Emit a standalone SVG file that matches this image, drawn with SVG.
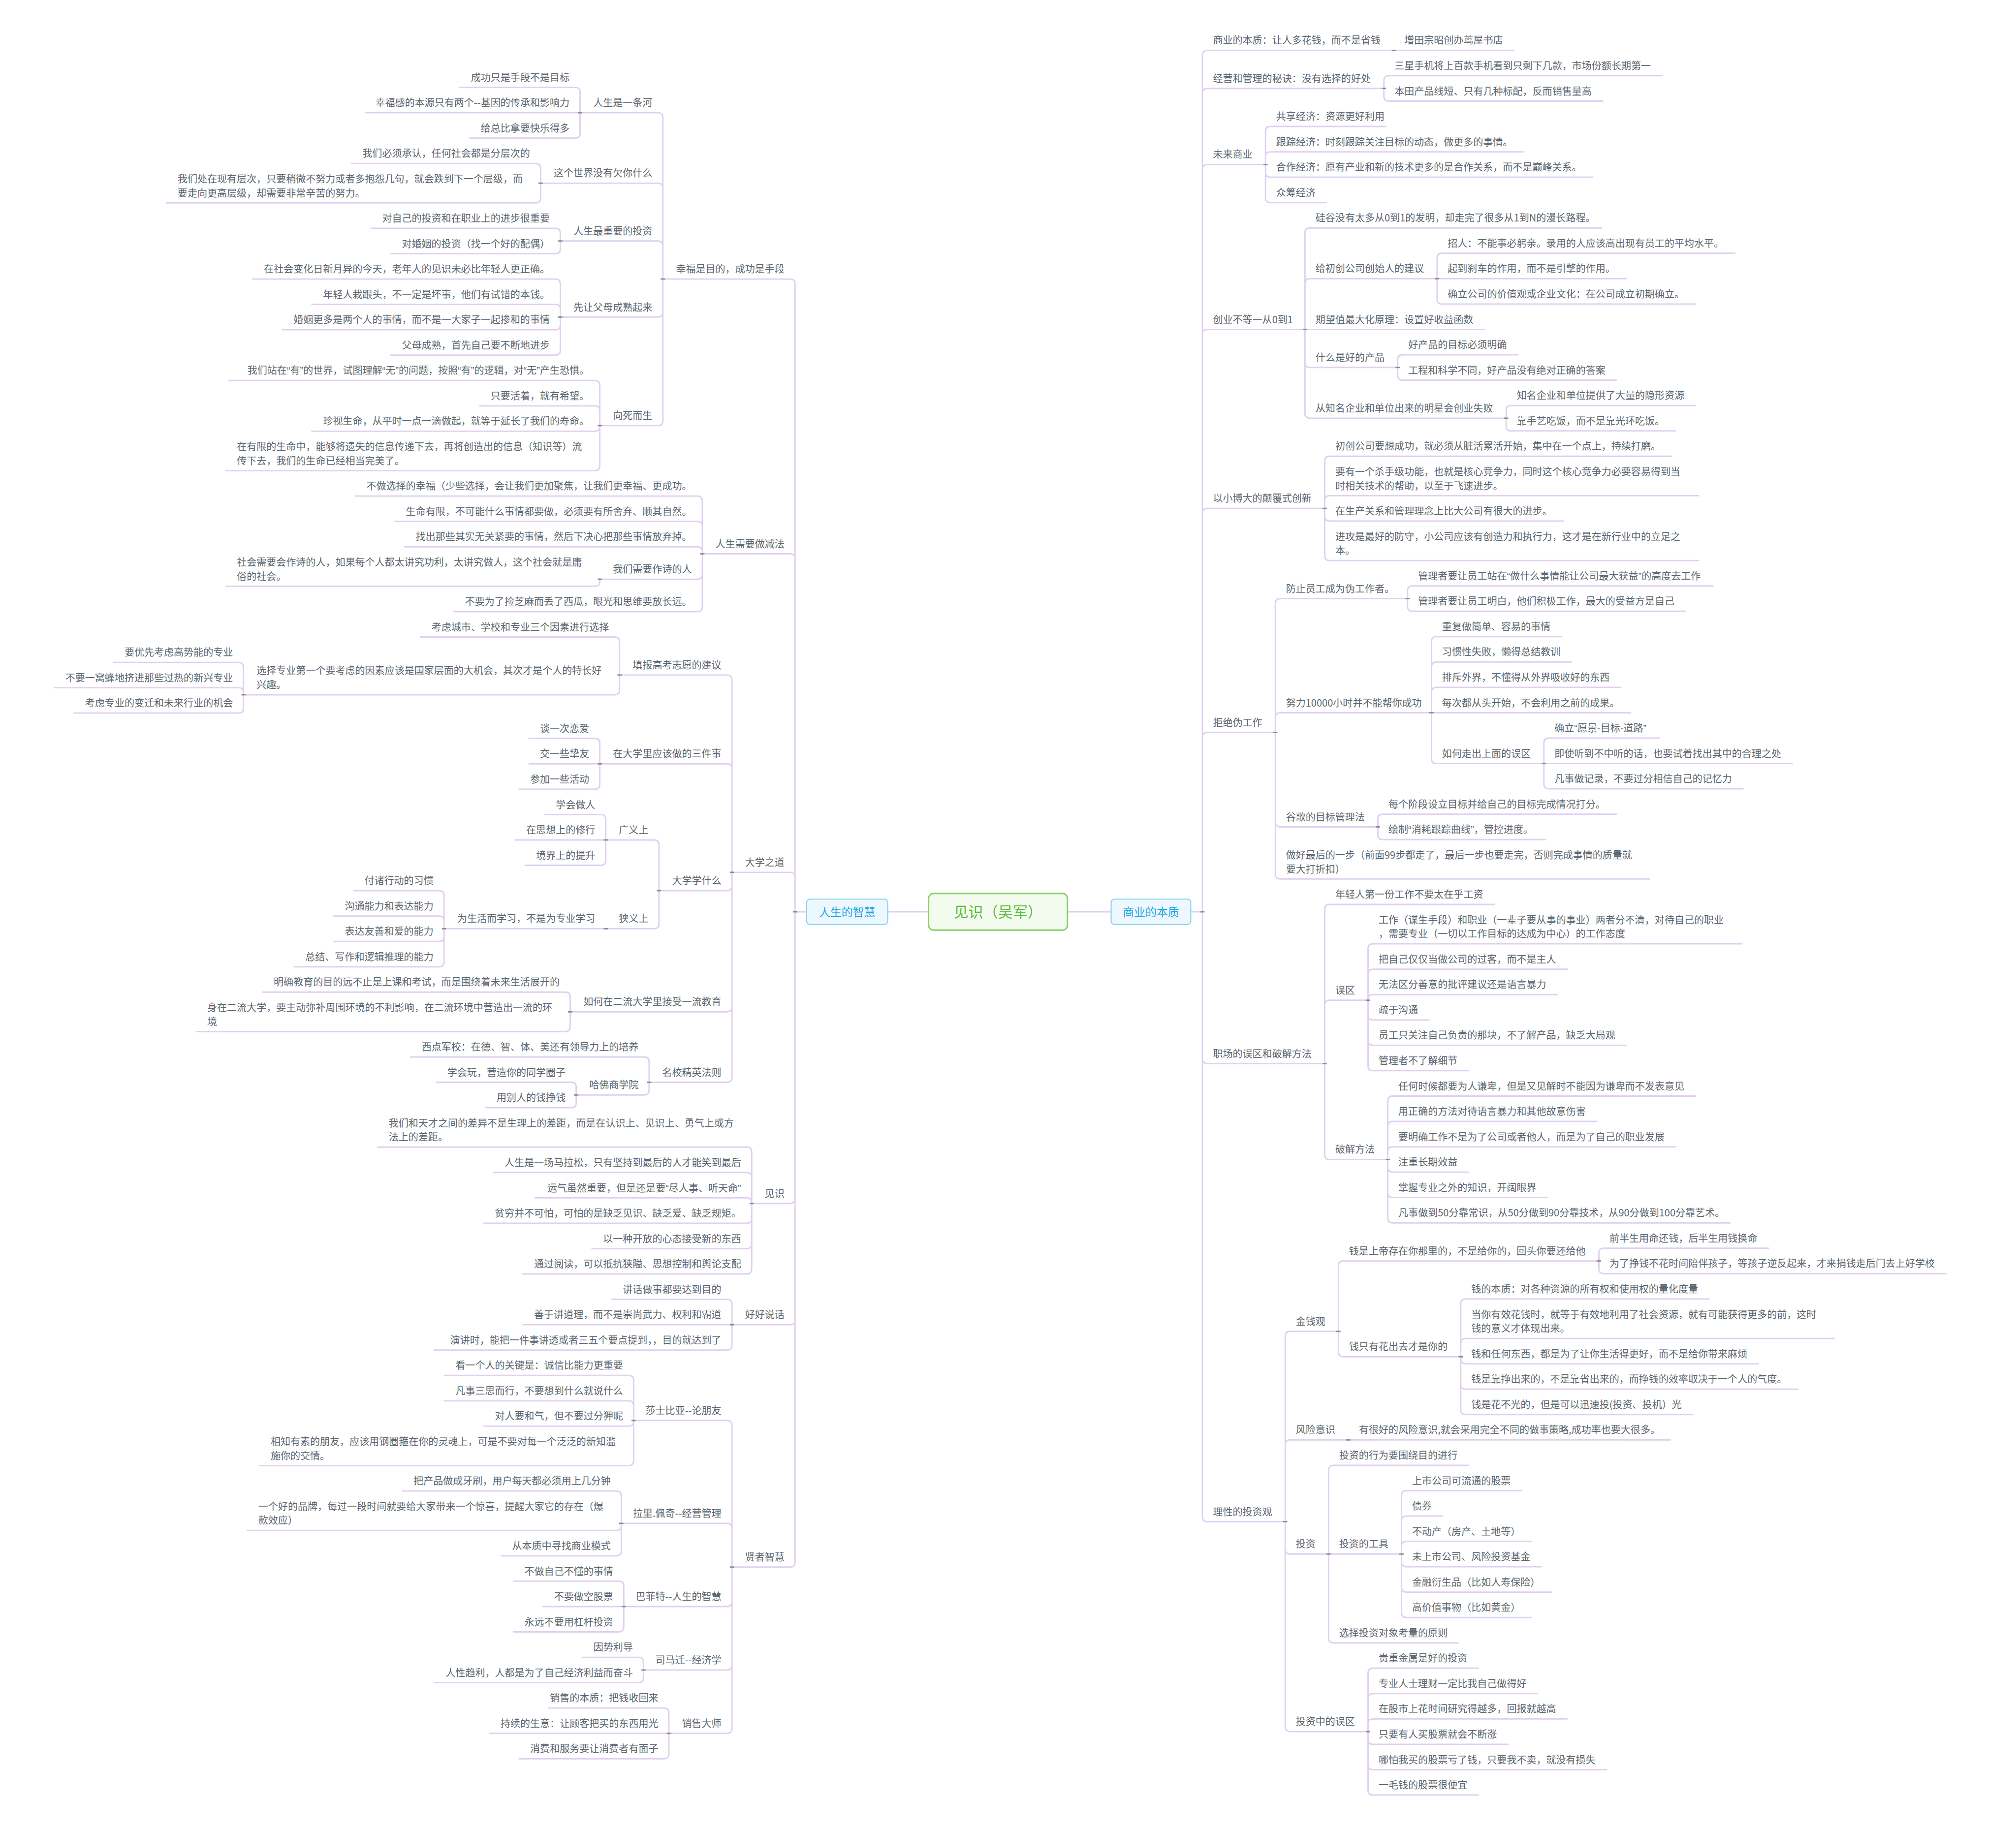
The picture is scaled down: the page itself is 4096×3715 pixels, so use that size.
<svg xmlns="http://www.w3.org/2000/svg" xmlns:xlink="http://www.w3.org/1999/xlink" width="4096" height="3715" viewBox="0 0 4096 3715">
<style>
.c{fill:none;stroke:#e0d0f1;stroke-width:4;stroke-linecap:round}
.t{font-family:"Noto Sans CJK SC","Noto Sans",sans-serif;font-size:28px;fill:#5b6670}
.q{font-family:"Liberation Sans","Noto Sans CJK SC",sans-serif}
.e{text-anchor:end}
.mk{fill:#8d8d8d}
.b1{font-family:"Noto Sans CJK SC","Noto Sans",sans-serif;font-size:32px;fill:#1fa3e6;text-anchor:middle}
.rt{font-family:"Noto Sans CJK SC","Noto Sans",sans-serif;font-size:42px;fill:#5cbb3a;text-anchor:middle}
</style>
<defs><rect id="mk" class="mk" x="-6" y="-2" width="12" height="4"/></defs>
<rect width="4096" height="3715" fill="#ffffff"/>
<g transform="scale(0.716)">
<g id="connectors">
<path class="c" d="M2635 2588H2519M3029 2588H3153"/>
<path class="c" d="M2289 2588H2256M2256 2588V806Q2256 792 2242 792H1887M2256 2588V1586Q2256 1572 2242 1572H1999M2256 2588V2490Q2256 2476 2242 2476H2083M2256 2588V3402Q2256 3416 2242 3416H2139M2256 2588V3746Q2256 3760 2242 3760H2083M2256 2588V4434Q2256 4448 2242 4448H2083"/>
<path class="c" d="M1881 792V334Q1881 320 1867 320H1652M1881 792V534Q1881 520 1867 520H1540M1881 792V698Q1881 684 1867 684H1596M1881 792V886Q1881 900 1867 900H1596M1881 792V1194Q1881 1208 1867 1208H1708"/>
<path class="c" d="M1646 320V262Q1646 248 1632 248H1305M1646 320H1037M1646 320V378Q1646 392 1632 392H1333"/>
<path class="c" d="M1534 520V478Q1534 464 1520 464H997M1534 520V562Q1534 576 1520 576H473"/>
<path class="c" d="M1590 684V662Q1590 648 1576 648H1053M1590 684V706Q1590 720 1576 720H1109"/>
<path class="c" d="M1590 900V806Q1590 792 1576 792H717M1590 900V878Q1590 864 1576 864H885M1590 900V922Q1590 936 1576 936H801M1590 900V994Q1590 1008 1576 1008H1109"/>
<path class="c" d="M1702 1208V1094Q1702 1080 1688 1080H650M1702 1208V1166Q1702 1152 1688 1152H1361M1702 1208V1210Q1702 1224 1688 1224H885M1702 1208V1322Q1702 1336 1688 1336H641"/>
<path class="c" d="M1993 1572V1422Q1993 1408 1979 1408H1008M1993 1572V1494Q1993 1480 1979 1480H1120M1993 1572V1566Q1993 1552 1979 1552H1148M1993 1572V1630Q1993 1644 1979 1644H1708M1993 1572V1722Q1993 1736 1979 1736H1288"/>
<path class="c" d="M1702 1644V1650Q1702 1664 1688 1664H641"/>
<path class="c" d="M2077 2476V1930Q2077 1916 2063 1916H1764M2077 2476V2182Q2077 2168 2063 2168H1708M2077 2476V2514Q2077 2528 2063 2528H1876M2077 2476V2858Q2077 2872 2063 2872H1624M2077 2476V3058Q2077 3072 2063 3072H1848"/>
<path class="c" d="M1758 1916V1822Q1758 1808 1744 1808H1193M1758 1916V1958Q1758 1972 1744 1972H697"/>
<path class="c" d="M691 1972V1894Q691 1880 677 1880H322M691 1972V1966Q691 1952 677 1952H154M691 1972V2010Q691 2024 677 2024H210"/>
<path class="c" d="M1702 2168V2110Q1702 2096 1688 2096H1501M1702 2168H1501M1702 2168V2226Q1702 2240 1688 2240H1473"/>
<path class="c" d="M1870 2528V2398Q1870 2384 1856 2384H1725M1870 2528V2622Q1870 2636 1856 2636H1725"/>
<path class="c" d="M1719 2384V2326Q1719 2312 1705 2312H1546M1719 2384H1462M1719 2384V2442Q1719 2456 1705 2456H1490"/>
<path class="c" d="M1719 2636H1266"/>
<path class="c" d="M1260 2636V2542Q1260 2528 1246 2528H1003M1260 2636V2614Q1260 2600 1246 2600H947M1260 2636V2658Q1260 2672 1246 2672H947M1260 2636V2730Q1260 2744 1246 2744H835"/>
<path class="c" d="M1618 2872V2830Q1618 2816 1604 2816H745M1618 2872V2914Q1618 2928 1604 2928H557"/>
<path class="c" d="M1842 3072V3014Q1842 3000 1828 3000H1165M1842 3072V3094Q1842 3108 1828 3108H1641"/>
<path class="c" d="M1635 3108V3086Q1635 3072 1621 3072H1238M1635 3108V3130Q1635 3144 1621 3144H1378"/>
<path class="c" d="M2133 3416V3270Q2133 3256 2119 3256H1072M2133 3416V3342Q2133 3328 2119 3328H1400M2133 3416V3414Q2133 3400 2119 3400H1518M2133 3416V3458Q2133 3472 2119 3472H1372M2133 3416V3530Q2133 3544 2119 3544H1680M2133 3416V3602Q2133 3616 2119 3616H1484"/>
<path class="c" d="M2077 3760V3702Q2077 3688 2063 3688H1736M2077 3760H1484M2077 3760V3818Q2077 3832 2063 3832H1232"/>
<path class="c" d="M2077 4448V4046Q2077 4032 2063 4032H1804M2077 4448V4338Q2077 4324 2063 4324H1769M2077 4448V4546Q2077 4560 2063 4560H1776M2077 4448V4726Q2077 4740 2063 4740H1832M2077 4448V4906Q2077 4920 2063 4920H1904"/>
<path class="c" d="M1798 4032V3918Q1798 3904 1784 3904H1261M1798 4032V3990Q1798 3976 1784 3976H1261M1798 4032V4034Q1798 4048 1784 4048H1373M1798 4032V4146Q1798 4160 1784 4160H737"/>
<path class="c" d="M1763 4324V4246Q1763 4232 1749 4232H1142M1763 4324V4330Q1763 4344 1749 4344H702M1763 4324V4402Q1763 4416 1749 4416H1422"/>
<path class="c" d="M1770 4560V4502Q1770 4488 1756 4488H1457M1770 4560H1541M1770 4560V4618Q1770 4632 1756 4632H1457"/>
<path class="c" d="M1826 4740V4718Q1826 4704 1812 4704H1653M1826 4740V4762Q1826 4776 1812 4776H1233"/>
<path class="c" d="M1898 4920V4862Q1898 4848 1884 4848H1557M1898 4920H1389M1898 4920V4978Q1898 4992 1884 4992H1473"/>
<path class="c" d="M3379 2588H3412M3412 2588V157Q3412 143 3426 143H3949M3412 2588V265Q3412 251 3426 251H3921M3412 2588V481Q3412 467 3426 467H3585M3412 2588V949Q3412 935 3426 935H3697M3412 2588V1457Q3412 1443 3426 1443H3753M3412 2588V2093Q3412 2079 3426 2079H3613M3412 2588V3005Q3412 3019 3426 3019H3753M3412 2588V4305Q3412 4319 3426 4319H3641"/>
<path class="c" d="M3955 143H4296"/>
<path class="c" d="M3927 251V229Q3927 215 3941 215H4716M3927 251V273Q3927 287 3941 287H4548"/>
<path class="c" d="M3591 467V373Q3591 359 3605 359H3932M3591 467V445Q3591 431 3605 431H4324M3591 467V489Q3591 503 3605 503H4520M3591 467V561Q3591 575 3605 575H3764"/>
<path class="c" d="M3703 935V661Q3703 647 3717 647H4545M3703 935V805Q3703 791 3717 791H4072M3703 935H4212M3703 935V1029Q3703 1043 3717 1043H3960M3703 935V1173Q3703 1187 3717 1187H4268"/>
<path class="c" d="M4078 791V733Q4078 719 4092 719H4923M4078 791H4615M4078 791V849Q4078 863 4092 863H4811"/>
<path class="c" d="M3966 1043V1021Q3966 1007 3980 1007H4307M3966 1043V1065Q3966 1079 3980 1079H4587"/>
<path class="c" d="M4274 1187V1165Q4274 1151 4288 1151H4811M4274 1187V1209Q4274 1223 4288 1223H4755"/>
<path class="c" d="M3759 1443V1309Q3759 1295 3773 1295H4744M3759 1443V1421Q3759 1407 3773 1407H4820M3759 1443V1465Q3759 1479 3773 1479H4436M3759 1443V1577Q3759 1591 3773 1591H4820"/>
<path class="c" d="M3619 2079V1713Q3619 1699 3633 1699H3988M3619 2079V2037Q3619 2023 3633 2023H4056M3619 2079V2333Q3619 2347 3633 2347H3904M3619 2079V2481Q3619 2495 3633 2495H4680"/>
<path class="c" d="M3994 1699V1677Q3994 1663 4008 1663H4861M3994 1699V1721Q3994 1735 4008 1735H4783"/>
<path class="c" d="M4062 2023V1821Q4062 1807 4076 1807H4431M4062 2023V1893Q4062 1879 4076 1879H4459M4062 2023V1965Q4062 1951 4076 1951H4599M4062 2023H4627M4062 2023V2153Q4062 2167 4076 2167H4375"/>
<path class="c" d="M4381 2167V2109Q4381 2095 4395 2095H4708M4381 2167H5086M4381 2167V2225Q4381 2239 4395 2239H4946"/>
<path class="c" d="M3910 2347V2325Q3910 2311 3924 2311H4587M3910 2347V2369Q3910 2383 3924 2383H4385"/>
<path class="c" d="M3759 3019V2581Q3759 2567 3773 2567H4240M3759 3019V2853Q3759 2839 3773 2839H3876M3759 3019V3277Q3759 3291 3773 3291H3932"/>
<path class="c" d="M3882 2839V2693Q3882 2679 3896 2679H4943M3882 2839V2765Q3882 2751 3896 2751H4447M3882 2839V2837Q3882 2823 3896 2823H4419M3882 2839V2881Q3882 2895 3896 2895H4055M3882 2839V2953Q3882 2967 3896 2967H4615M3882 2839V3025Q3882 3039 3896 3039H4167"/>
<path class="c" d="M3938 3291V3125Q3938 3111 3952 3111H4811M3938 3291V3197Q3938 3183 3952 3183H4531M3938 3291V3269Q3938 3255 3952 3255H4755M3938 3291V3313Q3938 3327 3952 3327H4167M3938 3291V3385Q3938 3399 3952 3399H4391M3938 3291V3457Q3938 3471 3952 3471H4909"/>
<path class="c" d="M3647 4319V3793Q3647 3779 3661 3779H3792M3647 4319V4101Q3647 4087 3661 4087H3820M3647 4319V4397Q3647 4411 3661 4411H3764M3647 4319V4901Q3647 4915 3661 4915H3876"/>
<path class="c" d="M3798 3779V3593Q3798 3579 3812 3579H4531M3798 3779V3837Q3798 3851 3812 3851H4139"/>
<path class="c" d="M4537 3579V3557Q4537 3543 4551 3543H5018M4537 3579V3601Q4537 3615 4551 3615H5522"/>
<path class="c" d="M4145 3851V3701Q4145 3687 4159 3687H4850M4145 3851V3813Q4145 3799 4159 3799H5206M4145 3851V3857Q4145 3871 4159 3871H4990M4145 3851V3929Q4145 3943 4159 3943H5102M4145 3851V4001Q4145 4015 4159 4015H4804"/>
<path class="c" d="M3826 4087H4740"/>
<path class="c" d="M3770 4411V4173Q3770 4159 3784 4159H4167M3770 4411H3971M3770 4411V4649Q3770 4663 3784 4663H4139"/>
<path class="c" d="M3977 4411V4245Q3977 4231 3991 4231H4318M3977 4411V4317Q3977 4303 3991 4303H4094M3977 4411V4389Q3977 4375 3991 4375H4346M3977 4411V4433Q3977 4447 3991 4447H4374M3977 4411V4505Q3977 4519 3991 4519H4402M3977 4411V4577Q3977 4591 3991 4591H4346"/>
<path class="c" d="M3882 4915V4749Q3882 4735 3896 4735H4195M3882 4915V4821Q3882 4807 3896 4807H4363M3882 4915V4893Q3882 4879 3896 4879H4447M3882 4915V4937Q3882 4951 3896 4951H4279M3882 4915V5009Q3882 5023 3896 5023H4559M3882 4915V5081Q3882 5095 3896 5095H4195"/>
<g id="markers">
<use href="#mk" x="2256" y="2588"/><use href="#mk" x="1881" y="792"/><use href="#mk" x="1646" y="320"/><use href="#mk" x="1534" y="520"/><use href="#mk" x="1590" y="684"/><use href="#mk" x="1590" y="900"/><use href="#mk" x="1702" y="1208"/><use href="#mk" x="1993" y="1572"/><use href="#mk" x="1702" y="1644"/><use href="#mk" x="2077" y="2476"/><use href="#mk" x="1758" y="1916"/><use href="#mk" x="691" y="1972"/><use href="#mk" x="1702" y="2168"/><use href="#mk" x="1870" y="2528"/><use href="#mk" x="1719" y="2384"/><use href="#mk" x="1719" y="2636"/><use href="#mk" x="1260" y="2636"/><use href="#mk" x="1618" y="2872"/><use href="#mk" x="1842" y="3072"/><use href="#mk" x="1635" y="3108"/><use href="#mk" x="2133" y="3416"/><use href="#mk" x="2077" y="3760"/><use href="#mk" x="2077" y="4448"/><use href="#mk" x="1798" y="4032"/><use href="#mk" x="1763" y="4324"/><use href="#mk" x="1770" y="4560"/><use href="#mk" x="1826" y="4740"/><use href="#mk" x="1898" y="4920"/>
<use href="#mk" x="3412" y="2588"/><use href="#mk" x="3955" y="143"/><use href="#mk" x="3927" y="251"/><use href="#mk" x="3591" y="467"/><use href="#mk" x="3703" y="935"/><use href="#mk" x="4078" y="791"/><use href="#mk" x="3966" y="1043"/><use href="#mk" x="4274" y="1187"/><use href="#mk" x="3759" y="1443"/><use href="#mk" x="3619" y="2079"/><use href="#mk" x="3994" y="1699"/><use href="#mk" x="4062" y="2023"/><use href="#mk" x="4381" y="2167"/><use href="#mk" x="3910" y="2347"/><use href="#mk" x="3759" y="3019"/><use href="#mk" x="3882" y="2839"/><use href="#mk" x="3938" y="3291"/><use href="#mk" x="3647" y="4319"/><use href="#mk" x="3798" y="3779"/><use href="#mk" x="4537" y="3579"/><use href="#mk" x="4145" y="3851"/><use href="#mk" x="3826" y="4087"/><use href="#mk" x="3770" y="4411"/><use href="#mk" x="3977" y="4411"/><use href="#mk" x="3882" y="4915"/>
</g>
</g>
<g id="root"><rect x="2635" y="2536" width="394" height="104" rx="14" fill="#f3fbee" stroke="#86d162" stroke-width="4"/><text class="rt" x="2832" y="2603">见识（吴军）</text></g>
<g id="branch-left"><rect x="2289" y="2552" width="230" height="72" rx="10" fill="#edf8fe" stroke="#86d2f4" stroke-width="3"/><text class="b1" x="2404" y="2600">人生的智慧</text></g>
<g id="branch-right"><rect x="3153" y="2552" width="226" height="72" rx="10" fill="#edf8fe" stroke="#86d2f4" stroke-width="3"/><text class="b1" x="3266" y="2600">商业的本质</text></g>
<g id="left-nodes">
<g id="l1"><text class="t e" x="2226" y="774">幸福是目的，成功是手段</text></g>
<g id="l1a"><text class="t e" x="1851" y="302">人生是一条河</text></g>
<g id="l1a1"><text class="t e" x="1616" y="230">成功只是手段不是目标</text></g>
<g id="l1a2"><text class="t e" x="1616" y="302">幸福感的本源只有两个--基因的传承和影响力</text></g>
<g id="l1a3"><text class="t e" x="1616" y="374">给总比拿要快乐得多</text></g>
<g id="l1b"><text class="t e" x="1851" y="502">这个世界没有欠你什么</text></g>
<g id="l1b1"><text class="t e" x="1504" y="446">我们必须承认，任何社会都是分层次的</text></g>
<g id="l1b2"><text class="t" x="504" y="518">我们处在现有层次，只要稍微不努力或者多抱怨几句，就会跌到下一个层级，而</text><text class="t" x="504" y="558">要走向更高层级，却需要非常辛苦的努力。</text></g>
<g id="l1c"><text class="t e" x="1851" y="666">人生最重要的投资</text></g>
<g id="l1c1"><text class="t e" x="1560" y="630">对自己的投资和在职业上的进步很重要</text></g>
<g id="l1c2"><text class="t e" x="1560" y="702">对婚姻的投资（找一个好的配偶）</text></g>
<g id="l1d"><text class="t e" x="1851" y="882">先让父母成熟起来</text></g>
<g id="l1d1"><text class="t e" x="1560" y="774">在社会变化日新月异的今天，老年人的见识未必比年轻人更正确。</text></g>
<g id="l1d2"><text class="t e" x="1560" y="846">年轻人栽跟头，不一定是坏事，他们有试错的本钱。</text></g>
<g id="l1d3"><text class="t e" x="1560" y="918">婚姻更多是两个人的事情，而不是一大家子一起掺和的事情</text></g>
<g id="l1d4"><text class="t e" x="1560" y="990">父母成熟，首先自己要不断地进步</text></g>
<g id="l1e"><text class="t e" x="1851" y="1190">向死而生</text></g>
<g id="l1e1"><text class="t q e" x="1672" y="1062">我们站在“有”的世界，试图理解“无”的问题，按照“有”的逻辑，对“无”产生恐惧。</text></g>
<g id="l1e2"><text class="t e" x="1672" y="1134">只要活着，就有希望。</text></g>
<g id="l1e3"><text class="t e" x="1672" y="1206">珍视生命，从平时一点一滴做起，就等于延长了我们的寿命。</text></g>
<g id="l1e4"><text class="t" x="672" y="1278">在有限的生命中，能够将遗失的信息传递下去，再将创造出的信息（知识等）流</text><text class="t" x="672" y="1318">传下去，我们的生命已经相当完美了。</text></g>
<g id="l2"><text class="t e" x="2226" y="1554">人生需要做减法</text></g>
<g id="l2a"><text class="t e" x="1963" y="1390">不做选择的幸福（少些选择，会让我们更加聚焦，让我们更幸福、更成功。</text></g>
<g id="l2b"><text class="t e" x="1963" y="1462">生命有限，不可能什么事情都要做，必须要有所舍弃、顺其自然。</text></g>
<g id="l2c"><text class="t e" x="1963" y="1534">找出那些其实无关紧要的事情，然后下决心把那些事情放弃掉。</text></g>
<g id="l2d"><text class="t e" x="1963" y="1626">我们需要作诗的人</text></g>
<g id="l2d1"><text class="t" x="672" y="1606">社会需要会作诗的人，如果每个人都太讲究功利，太讲究做人，这个社会就是庸</text><text class="t" x="672" y="1646">俗的社会。</text></g>
<g id="l2e"><text class="t e" x="1963" y="1718">不要为了捡芝麻而丢了西瓜，眼光和思维要放长远。</text></g>
<g id="l3"><text class="t e" x="2226" y="2458">大学之道</text></g>
<g id="l3a"><text class="t e" x="2047" y="1898">填报高考志愿的建议</text></g>
<g id="l3a1"><text class="t e" x="1728" y="1790">考虑城市、学校和专业三个因素进行选择</text></g>
<g id="l3a2"><text class="t" x="728" y="1914">选择专业第一个要考虑的因素应该是国家层面的大机会，其次才是个人的特长好</text><text class="t" x="728" y="1954">兴趣。</text></g>
<g id="l3a2a"><text class="t e" x="661" y="1862">要优先考虑高势能的专业</text></g>
<g id="l3a2b"><text class="t e" x="661" y="1934">不要一窝蜂地挤进那些过热的新兴专业</text></g>
<g id="l3a2c"><text class="t e" x="661" y="2006">考虑专业的变迁和未来行业的机会</text></g>
<g id="l3b"><text class="t e" x="2047" y="2150">在大学里应该做的三件事</text></g>
<g id="l3b1"><text class="t e" x="1672" y="2078">谈一次恋爱</text></g>
<g id="l3b2"><text class="t e" x="1672" y="2150">交一些挚友</text></g>
<g id="l3b3"><text class="t e" x="1672" y="2222">参加一些活动</text></g>
<g id="l3c"><text class="t e" x="2047" y="2510">大学学什么</text></g>
<g id="l3c1"><text class="t e" x="1840" y="2366">广义上</text></g>
<g id="l3c1a"><text class="t e" x="1689" y="2294">学会做人</text></g>
<g id="l3c1b"><text class="t e" x="1689" y="2366">在思想上的修行</text></g>
<g id="l3c1c"><text class="t e" x="1689" y="2438">境界上的提升</text></g>
<g id="l3c2"><text class="t e" x="1840" y="2618">狭义上</text></g>
<g id="l3c2a"><text class="t e" x="1689" y="2618">为生活而学习，不是为专业学习</text></g>
<g id="l3c2a1"><text class="t e" x="1230" y="2510">付诸行动的习惯</text></g>
<g id="l3c2a2"><text class="t e" x="1230" y="2582">沟通能力和表达能力</text></g>
<g id="l3c2a3"><text class="t e" x="1230" y="2654">表达友善和爱的能力</text></g>
<g id="l3c2a4"><text class="t e" x="1230" y="2726">总结、写作和逻辑推理的能力</text></g>
<g id="l3d"><text class="t e" x="2047" y="2854">如何在二流大学里接受一流教育</text></g>
<g id="l3d1"><text class="t e" x="1588" y="2798">明确教育的目的远不止是上课和考试，而是围绕着未来生活展开的</text></g>
<g id="l3d2"><text class="t" x="588" y="2870">身在二流大学，要主动弥补周围环境的不利影响，在二流环境中营造出一流的环</text><text class="t" x="588" y="2910">境</text></g>
<g id="l3e"><text class="t e" x="2047" y="3054">名校精英法则</text></g>
<g id="l3e1"><text class="t e" x="1812" y="2982">西点军校：在德、智、体、美还有领导力上的培养</text></g>
<g id="l3e2"><text class="t e" x="1812" y="3090">哈佛商学院</text></g>
<g id="l3e2a"><text class="t e" x="1605" y="3054">学会玩，营造你的同学圈子</text></g>
<g id="l3e2b"><text class="t e" x="1605" y="3126">用别人的钱挣钱</text></g>
<g id="l4"><text class="t e" x="2226" y="3398">见识</text></g>
<g id="l4a"><text class="t" x="1103" y="3198">我们和天才之间的差异不是生理上的差距，而是在认识上、见识上、勇气上或方</text><text class="t" x="1103" y="3238">法上的差距。</text></g>
<g id="l4b"><text class="t e" x="2103" y="3310">人生是一场马拉松，只有坚持到最后的人才能笑到最后</text></g>
<g id="l4c"><text class="t q e" x="2103" y="3382">运气虽然重要，但是还是要“尽人事、听天命”</text></g>
<g id="l4d"><text class="t e" x="2103" y="3454">贫穷并不可怕，可怕的是缺乏见识、缺乏爱、缺乏规矩。</text></g>
<g id="l4e"><text class="t e" x="2103" y="3526">以一种开放的心态接受新的东西</text></g>
<g id="l4f"><text class="t e" x="2103" y="3598">通过阅读，可以抵抗狭隘、思想控制和舆论支配</text></g>
<g id="l5"><text class="t e" x="2226" y="3742">好好说话</text></g>
<g id="l5a"><text class="t e" x="2047" y="3670">讲话做事都要达到目的</text></g>
<g id="l5b"><text class="t e" x="2047" y="3742">善于讲道理，而不是崇尚武力、权利和霸道</text></g>
<g id="l5c"><text class="t e" x="2047" y="3814">演讲时，能把一件事讲透或者三五个要点提到，，目的就达到了</text></g>
<g id="l6"><text class="t e" x="2226" y="4430">贤者智慧</text></g>
<g id="l6a"><text class="t e" x="2047" y="4014">莎士比亚--论朋友</text></g>
<g id="l6a1"><text class="t e" x="1768" y="3886">看一个人的关键是：诚信比能力更重要</text></g>
<g id="l6a2"><text class="t e" x="1768" y="3958">凡事三思而行，不要想到什么就说什么</text></g>
<g id="l6a3"><text class="t e" x="1768" y="4030">对人要和气，但不要过分狎昵</text></g>
<g id="l6a4"><text class="t" x="768" y="4102">相知有素的朋友，应该用钢圈箍在你的灵魂上，可是不要对每一个泛泛的新知滥</text><text class="t" x="768" y="4142">施你的交情。</text></g>
<g id="l6b"><text class="t e" x="2047" y="4306">拉里.佩奇--经营管理</text></g>
<g id="l6b1"><text class="t e" x="1733" y="4214">把产品做成牙刷，用户每天都必须用上几分钟</text></g>
<g id="l6b2"><text class="t" x="733" y="4286">一个好的品牌，每过一段时间就要给大家带来一个惊喜，提醒大家它的存在（爆</text><text class="t" x="733" y="4326">款效应）</text></g>
<g id="l6b3"><text class="t e" x="1733" y="4398">从本质中寻找商业模式</text></g>
<g id="l6c"><text class="t e" x="2047" y="4542">巴菲特--人生的智慧</text></g>
<g id="l6c1"><text class="t e" x="1740" y="4470">不做自己不懂的事情</text></g>
<g id="l6c2"><text class="t e" x="1740" y="4542">不要做空股票</text></g>
<g id="l6c3"><text class="t e" x="1740" y="4614">永远不要用杠杆投资</text></g>
<g id="l6d"><text class="t e" x="2047" y="4722">司马迁--经济学</text></g>
<g id="l6d1"><text class="t e" x="1796" y="4686">因势利导</text></g>
<g id="l6d2"><text class="t e" x="1796" y="4758">人性趋利，人都是为了自己经济利益而奋斗</text></g>
<g id="l6e"><text class="t e" x="2047" y="4902">销售大师</text></g>
<g id="l6e1"><text class="t e" x="1868" y="4830">销售的本质：把钱收回来</text></g>
<g id="l6e2"><text class="t e" x="1868" y="4902">持续的生意：让顾客把买的东西用光</text></g>
<g id="l6e3"><text class="t e" x="1868" y="4974">消费和服务要让消费者有面子</text></g>
</g>
<g id="right-nodes">
<g id="r1"><text class="t" x="3442" y="125">商业的本质：让人多花钱，而不是省钱</text></g>
<g id="r1a"><text class="t" x="3985" y="125">增田宗昭创办茑屋书店</text></g>
<g id="r2"><text class="t" x="3442" y="233">经营和管理的秘诀：没有选择的好处</text></g>
<g id="r2a"><text class="t" x="3957" y="197">三星手机将上百款手机看到只剩下几款，市场份额长期第一</text></g>
<g id="r2b"><text class="t" x="3957" y="269">本田产品线短、只有几种标配，反而销售量高</text></g>
<g id="r3"><text class="t" x="3442" y="449">未来商业</text></g>
<g id="r3a"><text class="t" x="3621" y="341">共享经济：资源更好利用</text></g>
<g id="r3b"><text class="t" x="3621" y="413">跟踪经济：时刻跟踪关注目标的动态，做更多的事情。</text></g>
<g id="r3c"><text class="t" x="3621" y="485">合作经济：原有产业和新的技术更多的是合作关系，而不是巅峰关系。</text></g>
<g id="r3d"><text class="t" x="3621" y="557">众筹经济</text></g>
<g id="r4"><text class="t" x="3442" y="917">创业不等一从0到1</text></g>
<g id="r4a"><text class="t" x="3733" y="629">硅谷没有太多从0到1的发明，却走完了很多从1到N的漫长路程。</text></g>
<g id="r4b"><text class="t" x="3733" y="773">给初创公司创始人的建议</text></g>
<g id="r4b1"><text class="t" x="4108" y="701">招人：不能事必躬亲。录用的人应该高出现有员工的平均水平。</text></g>
<g id="r4b2"><text class="t" x="4108" y="773">起到刹车的作用，而不是引擎的作用。</text></g>
<g id="r4b3"><text class="t" x="4108" y="845">确立公司的价值观或企业文化：在公司成立初期确立。</text></g>
<g id="r4c"><text class="t" x="3733" y="917">期望值最大化原理：设置好收益函数</text></g>
<g id="r4d"><text class="t" x="3733" y="1025">什么是好的产品</text></g>
<g id="r4d1"><text class="t" x="3996" y="989">好产品的目标必须明确</text></g>
<g id="r4d2"><text class="t" x="3996" y="1061">工程和科学不同，好产品没有绝对正确的答案</text></g>
<g id="r4e"><text class="t" x="3733" y="1169">从知名企业和单位出来的明星会创业失败</text></g>
<g id="r4e1"><text class="t" x="4304" y="1133">知名企业和单位提供了大量的隐形资源</text></g>
<g id="r4e2"><text class="t" x="4304" y="1205">靠手艺吃饭，而不是靠光环吃饭。</text></g>
<g id="r5"><text class="t" x="3442" y="1425">以小博大的颠覆式创新</text></g>
<g id="r5a"><text class="t" x="3789" y="1277">初创公司要想成功，就必须从脏活累活开始，集中在一个点上，持续打磨。</text></g>
<g id="r5b"><text class="t" x="3789" y="1349">要有一个杀手级功能，也就是核心竞争力，同时这个核心竞争力必要容易得到当</text><text class="t" x="3789" y="1389">时相关技术的帮助，以至于飞速进步。</text></g>
<g id="r5c"><text class="t" x="3789" y="1461">在生产关系和管理理念上比大公司有很大的进步。</text></g>
<g id="r5d"><text class="t" x="3789" y="1533">进攻是最好的防守，小公司应该有创造力和执行力，这才是在新行业中的立足之</text><text class="t" x="3789" y="1573">本。</text></g>
<g id="r6"><text class="t" x="3442" y="2061">拒绝伪工作</text></g>
<g id="r6a"><text class="t" x="3649" y="1681">防止员工成为伪工作者。</text></g>
<g id="r6a1"><text class="t q" x="4024" y="1645">管理者要让员工站在“做什么事情能让公司最大获益”的高度去工作</text></g>
<g id="r6a2"><text class="t" x="4024" y="1717">管理者要让员工明白，他们积极工作，最大的受益方是自己</text></g>
<g id="r6b"><text class="t" x="3649" y="2005">努力10000小时并不能帮你成功</text></g>
<g id="r6b1"><text class="t" x="4092" y="1789">重复做简单、容易的事情</text></g>
<g id="r6b2"><text class="t" x="4092" y="1861">习惯性失败，懒得总结教训</text></g>
<g id="r6b3"><text class="t" x="4092" y="1933">排斥外界，不懂得从外界吸收好的东西</text></g>
<g id="r6b4"><text class="t" x="4092" y="2005">每次都从头开始，不会利用之前的成果。</text></g>
<g id="r6b5"><text class="t" x="4092" y="2149">如何走出上面的误区</text></g>
<g id="r6b5a"><text class="t q" x="4411" y="2077">确立“愿景-目标-道路”</text></g>
<g id="r6b5b"><text class="t" x="4411" y="2149">即使听到不中听的话，也要试着找出其中的合理之处</text></g>
<g id="r6b5c"><text class="t" x="4411" y="2221">凡事做记录，不要过分相信自己的记忆力</text></g>
<g id="r6c"><text class="t" x="3649" y="2329">谷歌的目标管理法</text></g>
<g id="r6c1"><text class="t" x="3940" y="2293">每个阶段设立目标并给自己的目标完成情况打分。</text></g>
<g id="r6c2"><text class="t q" x="3940" y="2365">绘制“消耗跟踪曲线”，管控进度。</text></g>
<g id="r6d"><text class="t" x="3649" y="2437">做好最后的一步（前面99步都走了，最后一步也要走完，否则完成事情的质量就</text><text class="t" x="3649" y="2477">要大打折扣）</text></g>
<g id="r7"><text class="t" x="3442" y="3001">职场的误区和破解方法</text></g>
<g id="r7a"><text class="t" x="3789" y="2549">年轻人第一份工作不要太在乎工资</text></g>
<g id="r7b"><text class="t" x="3789" y="2821">误区</text></g>
<g id="r7b1"><text class="t" x="3912" y="2621">工作（谋生手段）和职业（一辈子要从事的事业）两者分不清，对待自己的职业</text><text class="t" x="3912" y="2661">，需要专业（一切以工作目标的达成为中心）的工作态度</text></g>
<g id="r7b2"><text class="t" x="3912" y="2733">把自己仅仅当做公司的过客，而不是主人</text></g>
<g id="r7b3"><text class="t" x="3912" y="2805">无法区分善意的批评建议还是语言暴力</text></g>
<g id="r7b4"><text class="t" x="3912" y="2877">疏于沟通</text></g>
<g id="r7b5"><text class="t" x="3912" y="2949">员工只关注自己负责的那块，不了解产品，缺乏大局观</text></g>
<g id="r7b6"><text class="t" x="3912" y="3021">管理者不了解细节</text></g>
<g id="r7c"><text class="t" x="3789" y="3273">破解方法</text></g>
<g id="r7c1"><text class="t" x="3968" y="3093">任何时候都要为人谦卑，但是又见解时不能因为谦卑而不发表意见</text></g>
<g id="r7c2"><text class="t" x="3968" y="3165">用正确的方法对待语言暴力和其他故意伤害</text></g>
<g id="r7c3"><text class="t" x="3968" y="3237">要明确工作不是为了公司或者他人，而是为了自己的职业发展</text></g>
<g id="r7c4"><text class="t" x="3968" y="3309">注重长期效益</text></g>
<g id="r7c5"><text class="t" x="3968" y="3381">掌握专业之外的知识，开阔眼界</text></g>
<g id="r7c6"><text class="t" x="3968" y="3453">凡事做到50分靠常识，从50分做到90分靠技术，从90分做到100分靠艺术。</text></g>
<g id="r8"><text class="t" x="3442" y="4301">理性的投资观</text></g>
<g id="r8a"><text class="t" x="3677" y="3761">金钱观</text></g>
<g id="r8a1"><text class="t" x="3828" y="3561">钱是上帝存在你那里的，不是给你的，回头你要还给他</text></g>
<g id="r8a1a"><text class="t" x="4567" y="3525">前半生用命还钱，后半生用钱换命</text></g>
<g id="r8a1b"><text class="t" x="4567" y="3597">为了挣钱不花时间陪伴孩子，等孩子逆反起来，才来捐钱走后门去上好学校</text></g>
<g id="r8a2"><text class="t" x="3828" y="3833">钱只有花出去才是你的</text></g>
<g id="r8a2a"><text class="t" x="4175" y="3669">钱的本质：对各种资源的所有权和使用权的量化度量</text></g>
<g id="r8a2b"><text class="t" x="4175" y="3741">当你有效花钱时，就等于有效地利用了社会资源，就有可能获得更多的前，这时</text><text class="t" x="4175" y="3781">钱的意义才体现出来。</text></g>
<g id="r8a2c"><text class="t" x="4175" y="3853">钱和任何东西，都是为了让你生活得更好，而不是给你带来麻烦</text></g>
<g id="r8a2d"><text class="t" x="4175" y="3925">钱是靠挣出来的，不是靠省出来的，而挣钱的效率取决于一个人的气度。</text></g>
<g id="r8a2e"><text class="t" x="4175" y="3997">钱是花不光的，但是可以迅速投(投资、投机）光</text></g>
<g id="r8b"><text class="t" x="3677" y="4069">风险意识</text></g>
<g id="r8b1"><text class="t" x="3856" y="4069">有很好的风险意识,就会采用完全不同的做事策略,成功率也要大很多。</text></g>
<g id="r8c"><text class="t" x="3677" y="4393">投资</text></g>
<g id="r8c1"><text class="t" x="3800" y="4141">投资的行为要围绕目的进行</text></g>
<g id="r8c2"><text class="t" x="3800" y="4393">投资的工具</text></g>
<g id="r8c2a"><text class="t" x="4007" y="4213">上市公司可流通的股票</text></g>
<g id="r8c2b"><text class="t" x="4007" y="4285">债券</text></g>
<g id="r8c2c"><text class="t" x="4007" y="4357">不动产（房产、土地等）</text></g>
<g id="r8c2d"><text class="t" x="4007" y="4429">未上市公司、风险投资基金</text></g>
<g id="r8c2e"><text class="t" x="4007" y="4501">金融衍生品（比如人寿保险）</text></g>
<g id="r8c2f"><text class="t" x="4007" y="4573">高价值事物（比如黄金）</text></g>
<g id="r8c3"><text class="t" x="3800" y="4645">选择投资对象考量的原则</text></g>
<g id="r8d"><text class="t" x="3677" y="4897">投资中的误区</text></g>
<g id="r8d1"><text class="t" x="3912" y="4717">贵重金属是好的投资</text></g>
<g id="r8d2"><text class="t" x="3912" y="4789">专业人士理财一定比我自己做得好</text></g>
<g id="r8d3"><text class="t" x="3912" y="4861">在股市上花时间研究得越多，回报就越高</text></g>
<g id="r8d4"><text class="t" x="3912" y="4933">只要有人买股票就会不断涨</text></g>
<g id="r8d5"><text class="t" x="3912" y="5005">哪怕我买的股票亏了钱，只要我不卖，就没有损失</text></g>
<g id="r8d6"><text class="t" x="3912" y="5077">一毛钱的股票很便宜</text></g>
</g>
</g>
</svg>
